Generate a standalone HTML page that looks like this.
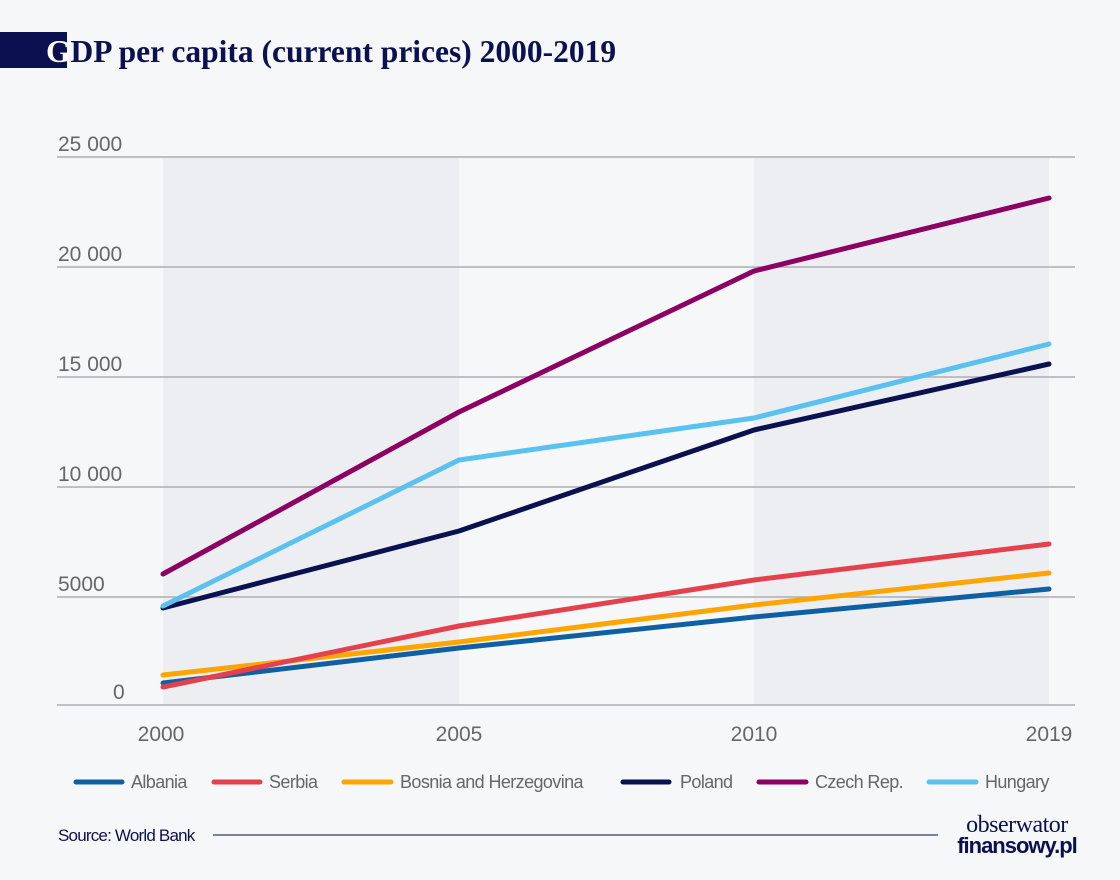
<!DOCTYPE html>
<html><head><meta charset="utf-8"><style>
body{margin:0;background:#f6f7f9;}
svg{display:block;}
</style></head><body>
<svg width="1120" height="880" xmlns="http://www.w3.org/2000/svg" font-family="Liberation Sans, sans-serif">
<rect width="1120" height="880" fill="#f6f7f9"/>
<rect x="0" y="32" width="67" height="36" fill="#0b1150"/>
<text x="46" y="62" font-family="Liberation Serif, serif" font-weight="bold" font-size="31.5" fill="#0b1150"><tspan fill="#ffffff">G</tspan>DP per capita (current prices) 2000-2019</text>
<rect x="163" y="157" width="296" height="548" fill="#eceef2"/>
<rect x="754" y="157" width="295" height="548" fill="#eceef2"/>
<g stroke="#aeaeb2" stroke-width="1.5">
<line x1="57" y1="157" x2="1075" y2="157"/>
<line x1="57" y1="267" x2="1075" y2="267"/>
<line x1="57" y1="377" x2="1075" y2="377"/>
<line x1="57" y1="487" x2="1075" y2="487"/>
<line x1="57" y1="597" x2="1075" y2="597"/>
<line x1="57" y1="705" x2="1075" y2="705"/>
</g>
<g font-size="21" fill="#666">
<text x="58" y="151">25 000</text>
<text x="58" y="261">20 000</text>
<text x="58" y="371">15 000</text>
<text x="58" y="481">10 000</text>
<text x="58" y="591">5000</text>
<text x="113" y="699">0</text>
<g text-anchor="middle">
<text x="161" y="741">2000</text>
<text x="459" y="741">2005</text>
<text x="754" y="741">2010</text>
<text x="1049" y="741">2019</text>
</g>
</g>
<g fill="none" stroke-width="5" stroke-linejoin="round" stroke-linecap="round">
<polyline stroke="#0f5fa3" points="163,683 459,648 754,617 1049,589"/>
<polyline stroke="#ffa500" points="163,675 459,642 754,605 1049,573"/>
<polyline stroke="#e5414c" points="163,687 459,626 754,580 1049,544"/>
<polyline stroke="#0b1150" points="163,608 459,531 754,430 1049,364"/>
<polyline stroke="#5bc2f0" points="163,606 459,460 754,418 1049,344"/>
<polyline stroke="#8b0062" points="163,574 459,412 754,271 1049,198"/>
</g>
<g stroke-width="5" stroke-linecap="round">
<line x1="76" y1="782" x2="122" y2="782" stroke="#0f5fa3"/>
<line x1="214" y1="782" x2="260" y2="782" stroke="#e5414c"/>
<line x1="344" y1="782" x2="391" y2="782" stroke="#ffa500"/>
<line x1="623" y1="782" x2="669" y2="782" stroke="#0b1150"/>
<line x1="759" y1="782" x2="806" y2="782" stroke="#8b0062"/>
<line x1="929" y1="782" x2="976" y2="782" stroke="#5bc2f0"/>
</g>
<g font-size="18" fill="#666" letter-spacing="-0.6">
<text x="131" y="788">Albania</text>
<text x="269" y="788">Serbia</text>
<text x="400" y="788">Bosnia and Herzegovina</text>
<text x="680" y="788">Poland</text>
<text x="815" y="788">Czech Rep.</text>
<text x="985" y="788">Hungary</text>
</g>
<text x="58" y="841" font-size="17" fill="#0b1150" letter-spacing="-0.8">Source: World Bank</text>
<line x1="213" y1="835" x2="938" y2="835" stroke="#7a809e" stroke-width="2"/>
<text x="1017" y="832" text-anchor="middle" font-family="Liberation Serif, serif" font-size="24" fill="#0b1150" letter-spacing="-0.5">obserwator</text>
<text x="1017" y="853" text-anchor="middle" font-size="22" font-weight="bold" fill="#0b1150" letter-spacing="-1">finansowy.pl</text>
</svg>
</body></html>
